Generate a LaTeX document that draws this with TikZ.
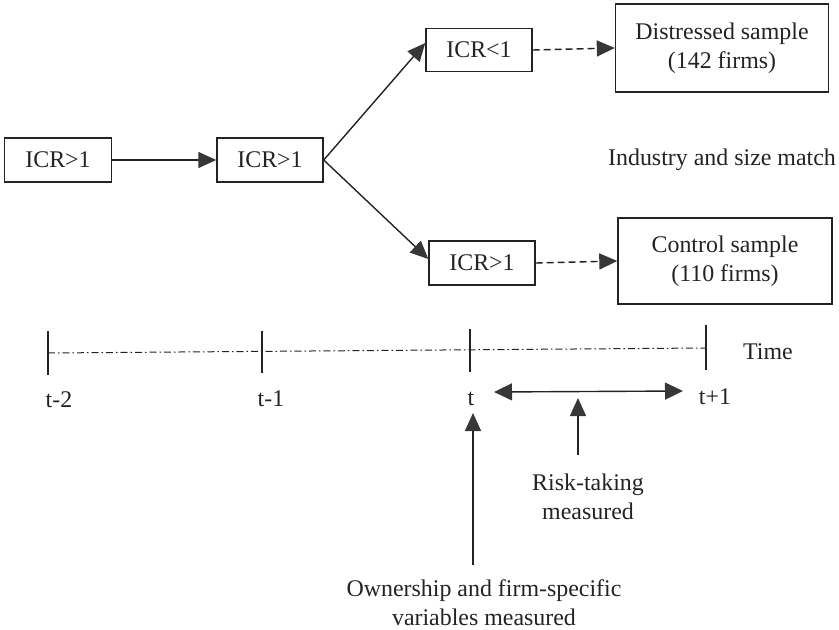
\documentclass[tikz,border=0pt]{standalone}
\usepackage{fontspec}
\setmainfont{Liberation Serif}
\usetikzlibrary{arrows.meta}
\definecolor{ink}{RGB}{35,35,35}
\definecolor{head}{RGB}{55,55,55}
\tikzset{
  box/.style={draw=ink, line width=1.4bp, inner sep=0pt, align=center, text=ink},
  lbl/.style={inner sep=0pt, align=center, text=ink},
  tip/.style={Triangle[length=18bp,width=16bp,fill=head,color=head]},
  conn/.style={draw=ink, line width=1.4bp, -{Triangle[length=18bp,width=16bp,fill=head,color=head]}},
  dconn/.style={conn, dash pattern=on 7bp off 4bp},
  tick/.style={draw=ink, line width=1.2bp},
  axis/.style={draw=ink, line width=1bp, dash pattern=on 7bp off 3bp on 1.5bp off 3bp},
}
\begin{document}
\begin{tikzpicture}[x=1bp,y=-1bp,font=\fontsize{24}{29}\selectfont]
\useasboundingbox (0,0) rectangle (839,630);
% boxes
\node[box, minimum width=107bp, minimum height=44bp] (b1) at (58,160) {ICR>1};
\node[box, minimum width=106bp, minimum height=44bp] (b2) at (270,160) {ICR>1};
\node[box, minimum width=106bp, minimum height=43bp] (b3) at (479,50) {ICR<1};
\node[box, minimum width=106bp, minimum height=44bp] (b4) at (482,263) {ICR>1};
\node[box, minimum width=213bp, minimum height=88bp] (d) at (722,48) {Distressed sample\\(142 firms)};
\node[box, minimum width=214bp, minimum height=86bp] (c) at (725,261) {Control sample\\(110 firms)};
\node[lbl] (match) at (722,160) {Industry and size match};
% connectors
\draw[conn] (b1.east) -- (b2.west);
\draw[conn] (b2.east) -- ([yshift=7bp]b3.west);
\draw[conn] (b2.east) -- ([yshift=4bp]b4.west);
\draw[dconn] (b3.east) -- (d.west);
\draw[dconn] (b4.east) -- (c.west);
% timeline
\coordinate (a0) at (48,353);
\coordinate (a3) at (706,348);
\draw[axis] (a0) -- (a3);
\coordinate (k0t) at (48,331); \coordinate (k0b) at (48,375);
\coordinate (k1t) at (262,331); \coordinate (k1b) at (262,373);
\coordinate (k2t) at (470,329); \coordinate (k2b) at (470,372);
\coordinate (k3t) at (706,325); \coordinate (k3b) at (706,370);
\draw[tick] (k0t) -- (k0b);
\draw[tick] (k1t) -- (k1b);
\draw[tick] (k2t) -- (k2b);
\draw[tick] (k3t) -- (k3b);
\node[lbl] (time) at (768,352) {Time};
\node[lbl] (tm2) at (59,400) {t-2};
\node[lbl] (tm1) at (271,399) {t-1};
\node[lbl] (t0) at (471,399) {t};
\node[lbl] (tp1) at (715,397) {t+1};
% risk-taking window
\coordinate (wl) at (494,392);
\coordinate (wr) at (683,391);
\coordinate (wm) at (578,398);
\draw[conn, {Triangle[length=18bp,width=17bp,fill=head,color=head]}-{Triangle[length=18bp,width=17bp,fill=head,color=head]}] (wl) -- (wr);
\node[lbl] (risk) at (588,497) {Risk-taking\\measured};
\coordinate (rbot) at (578,455);
\draw[conn] (rbot) -- (wm);
\node[lbl] (own) at (484,603) {Ownership and firm-specific\\variables measured};
\coordinate (obot) at (473,565);
\coordinate (otop) at (473,413);
\draw[conn] (obot) -- (otop);
\end{tikzpicture}
\end{document}
